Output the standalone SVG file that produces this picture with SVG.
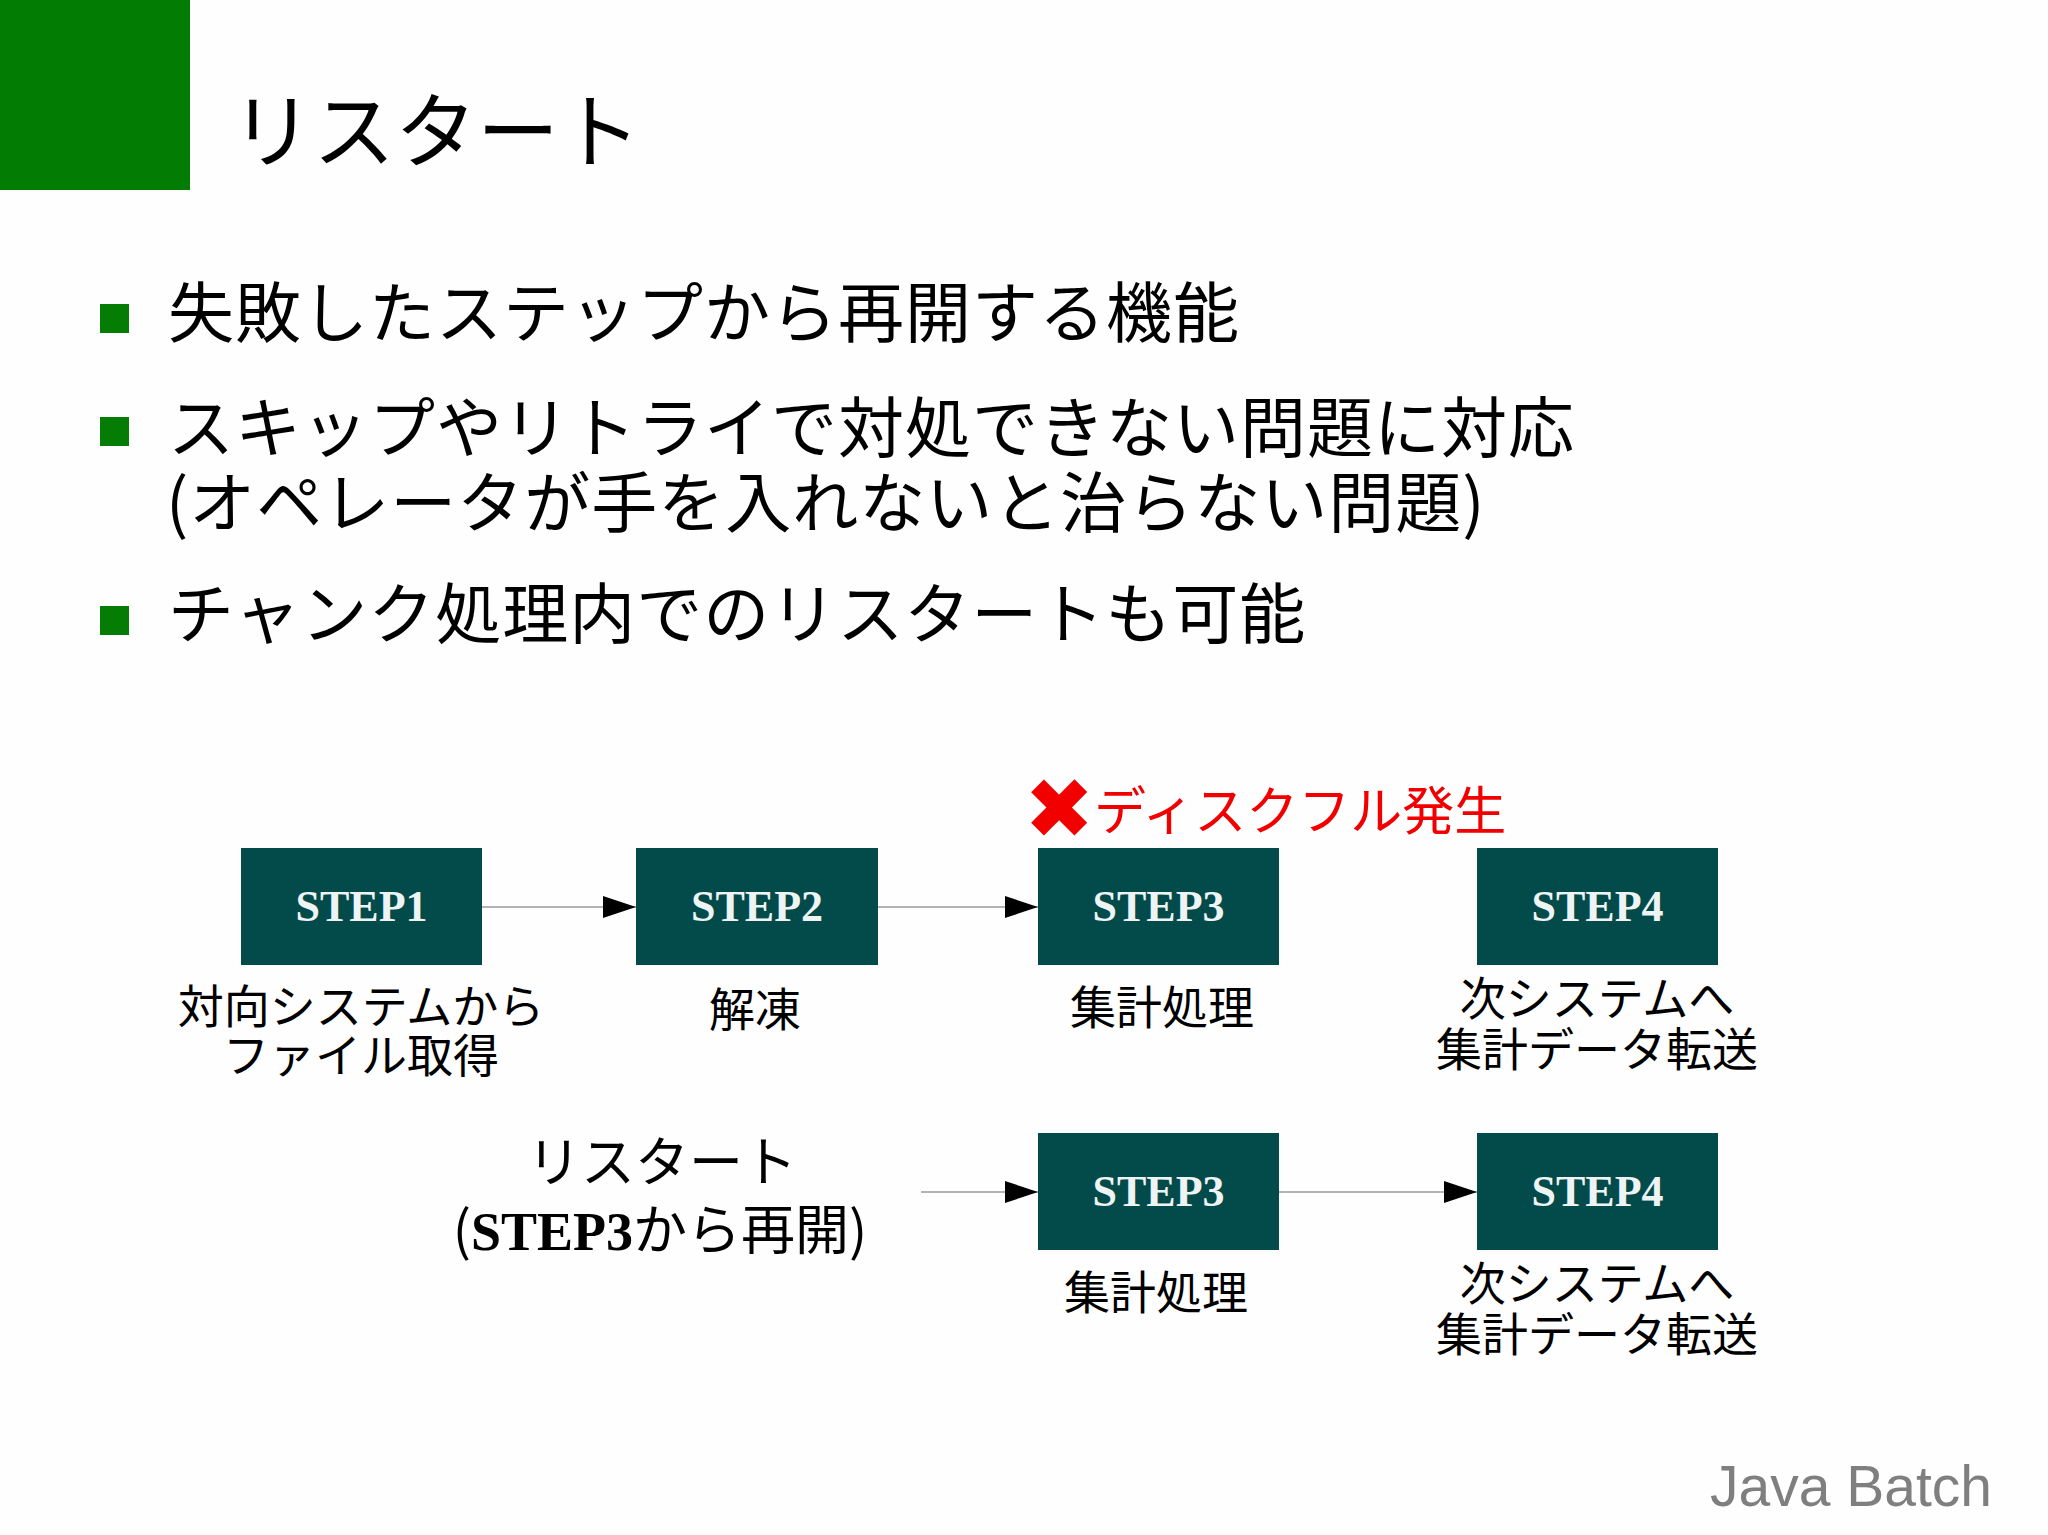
<svg xmlns="http://www.w3.org/2000/svg" width="2048" height="1535" viewBox="0 0 2048 1535">
<style>
.jp{font-family:"Noto Sans CJK JP","Noto Sans CJK SC",sans-serif;fill:#000}
.b{font-size:66px;letter-spacing:1px}
.step{fill:#034a4a}
.stxt{font-family:"Liberation Serif","DejaVu Serif",serif;font-weight:bold;font-size:44px;fill:#eef4f4;text-anchor:middle}
.lbl{font-family:"Noto Sans CJK JP","Noto Sans CJK SC",sans-serif;font-size:46px;fill:#000;text-anchor:middle}
.bul{fill:#057d05}
.conn{stroke:#9a9a9a;stroke-width:1.5;fill:none}
</style>
<defs>
<marker id="arr" markerUnits="userSpaceOnUse" markerWidth="34" markerHeight="22" refX="33" refY="11" orient="auto">
<path d="M0,0 L33,11 L0,22 Z" fill="#000"/>
</marker>
</defs>
<rect width="2048" height="1535" fill="#fefefe"/>
<rect x="0" y="0" width="190" height="190" fill="#037c03"/>
<text class="jp" x="231" y="161" font-size="82">リスタート</text>

<g id="bullets">
<rect class="bul" x="100" y="304" width="29" height="29"/>
<text class="jp b" x="168" y="337">失敗したステップから再開する機能</text>
<rect class="bul" x="100" y="417" width="29" height="29"/>
<text class="jp b" x="168" y="452">スキップやリトライで対処できない問題に対応<tspan x="166" y="527">(オペレータが手を入れないと治らない問題)</tspan></text>
<rect class="bul" x="100" y="606" width="29" height="29"/>
<text class="jp b" x="168" y="638">チャンク処理内でのリスタートも可能</text>
</g>

<g id="connectors">
<line class="conn" x1="482" y1="907" x2="636" y2="907" marker-end="url(#arr)"/>
<line class="conn" x1="878" y1="907" x2="1038" y2="907" marker-end="url(#arr)"/>
<line class="conn" x1="921" y1="1192" x2="1038" y2="1192" marker-end="url(#arr)"/>
<line class="conn" x1="1279" y1="1192" x2="1477" y2="1192" marker-end="url(#arr)"/>
</g>

<g id="error">
<text x="1024" y="838" font-family="DejaVu Sans,sans-serif" font-size="84" fill="#f20000">✖</text>
<text class="jp" x="1094" y="830" font-size="52" style="fill:#f20000">ディスクフル発生</text>
</g>

<g id="step1">
<rect class="step" x="241" y="848" width="241" height="117"/>
<text class="stxt" x="361.5" y="921">STEP1</text>
<text class="lbl" x="361" y="1023">対向システムから<tspan x="361" y="1072">ファイル取得</tspan></text>
</g>
<g id="step2">
<rect class="step" x="636" y="848" width="242" height="117"/>
<text class="stxt" x="757" y="921">STEP2</text>
<text class="lbl" x="755" y="1026">解凍</text>
</g>
<g id="step3">
<rect class="step" x="1038" y="848" width="241" height="117"/>
<text class="stxt" x="1158.5" y="921">STEP3</text>
<text class="lbl" x="1162" y="1024">集計処理</text>
</g>
<g id="step4">
<rect class="step" x="1477" y="848" width="241" height="117"/>
<text class="stxt" x="1597.5" y="921">STEP4</text>
<text class="lbl" x="1597" y="1015">次システムへ<tspan x="1597" y="1066">集計データ転送</tspan></text>
</g>

<g id="restart">
<text class="lbl" x="662" y="1182" style="font-size:54px">リスタート<tspan x="660" y="1250">(<tspan font-family="Liberation Serif,serif" font-weight="bold">STEP3</tspan>から再開)</tspan></text>
</g>
<g id="step3b">
<rect class="step" x="1038" y="1133" width="241" height="117"/>
<text class="stxt" x="1158.5" y="1206">STEP3</text>
<text class="lbl" x="1156" y="1309">集計処理</text>
</g>
<g id="step4b">
<rect class="step" x="1477" y="1133" width="241" height="117"/>
<text class="stxt" x="1597.5" y="1206">STEP4</text>
<text class="lbl" x="1597" y="1300">次システムへ<tspan x="1597" y="1351">集計データ転送</tspan></text>
</g>

<text x="1710" y="1506" font-family="Liberation Sans,Arial,sans-serif" font-size="57" fill="#7f7f7f">Java Batch</text>
</svg>
